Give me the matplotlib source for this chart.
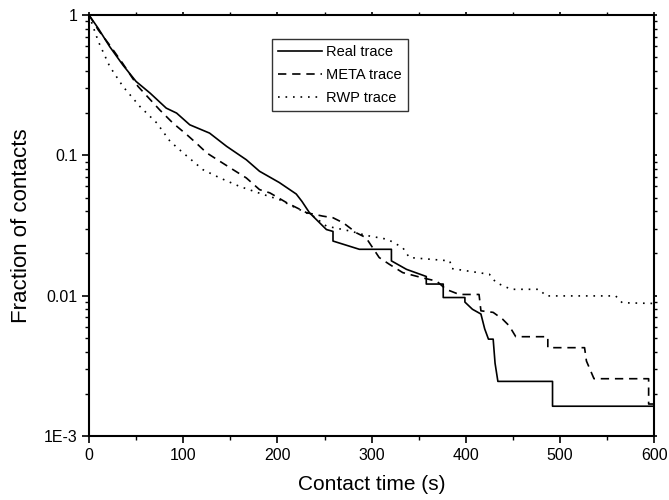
import numpy as np
import matplotlib
matplotlib.use("Agg")
import matplotlib.pyplot as plt
from matplotlib.ticker import FixedLocator, LogLocator, MultipleLocator, NullFormatter

plt.rcParams["font.family"] = ["Liberation Sans", "DejaVu Sans"]

# Real trace
real_x = [0, 10, 22, 36, 50, 65, 82, 93, 107, 128, 146, 167, 181, 202, 220, 226, 234,
          252, 259, 259, 287, 321, 321, 337, 358, 358, 376, 376, 399, 399, 407, 416,
          420, 424, 429, 431, 434, 492, 492, 600]
real_y = [1.0, 0.8, 0.595, 0.44, 0.336, 0.277, 0.217, 0.2, 0.165, 0.144, 0.116, 0.093,
          0.077, 0.064, 0.053, 0.047, 0.039, 0.0296, 0.0287, 0.0245, 0.0214, 0.0214,
          0.0177, 0.0154, 0.0137, 0.0121, 0.0121, 0.0097, 0.0097, 0.0090, 0.0080, 0.0074,
          0.0058, 0.0049, 0.0049, 0.0033, 0.00245, 0.00245, 0.00163, 0.00163]

# META trace
meta_x = [0, 10, 22, 36, 52, 75, 89, 104, 114, 125, 139, 153, 167, 181, 192, 210, 231,
          248, 259, 270, 284, 294, 308, 319, 333, 354, 369, 379, 393, 414, 416, 429, 439,
          446, 453, 487, 487, 526, 528, 536, 594, 594, 600]
meta_y = [1.0, 0.78, 0.61, 0.45, 0.31, 0.211, 0.17, 0.14, 0.122, 0.104, 0.0906, 0.079,
          0.069, 0.057, 0.054, 0.0459, 0.039, 0.0369, 0.0359, 0.033, 0.028, 0.0259, 0.0187,
          0.0167, 0.0146, 0.0134, 0.0127, 0.0111, 0.0102, 0.0102, 0.0078, 0.0076, 0.0068,
          0.0061, 0.0051, 0.0051, 0.00426, 0.00426, 0.00342, 0.00256, 0.00256, 0.00169,
          0.00169]

# RWP trace
rwp_x = [0, 10, 22, 36, 54, 72, 86, 100, 121, 139, 160, 185, 202, 216, 238, 252, 277,
         294, 317, 333, 340, 383, 385, 425, 432, 448, 478, 485, 559, 566, 600]
rwp_y = [1.0, 0.646, 0.43, 0.31, 0.223, 0.17, 0.126, 0.104, 0.079, 0.069, 0.060, 0.0526,
         0.0484, 0.0434, 0.0369, 0.0313, 0.0289, 0.0269, 0.0252, 0.022, 0.0187, 0.0177,
         0.0156, 0.0142, 0.0124, 0.0111, 0.0111, 0.00996, 0.00996, 0.0089, 0.0088]

y_ticks = [1e-3, 1e-2, 1e-1, 1]
y_tick_labels = ["1E-3", "0.01", "0.1", "1"]

fig = plt.figure(figsize=(6.69, 5.0), dpi=100)
ax = fig.add_axes([0.133, 0.128, 0.845, 0.842])

ax.plot(real_x, real_y, color="black", lw=1.2, ls="-", label="Real trace")
ax.plot(meta_x, meta_y, color="black", lw=1.2, ls=(0, (5, 3.5)), label="META trace")
ax.plot(rwp_x, rwp_y, color="black", lw=1.2, ls=(0, (1, 3.5)), label="RWP trace")

ax.set_yscale("log")
ax.set_xlim(0, 600)
ax.set_ylim(1e-3, 1)
ax.xaxis.set_major_locator(MultipleLocator(100))
ax.xaxis.set_minor_locator(MultipleLocator(50))
ax.yaxis.set_major_locator(FixedLocator(y_ticks))
ax.set_yticklabels(y_tick_labels)
ax.yaxis.set_minor_locator(LogLocator(base=10, subs=np.arange(2, 10)))
ax.yaxis.set_minor_formatter(NullFormatter())

for s in ax.spines.values():
    s.set_linewidth(1.5)
ax.tick_params(which="major", direction="out", length=5, width=1.2, labelsize=11.5,
               top=True, right=True, labeltop=False, labelright=False)
ax.tick_params(which="minor", direction="out", length=3, width=1.0, top=True, right=True)
# short ticks on the top and right spines
for t in ax.xaxis.get_ticklines(minor=False)[1::2] + ax.yaxis.get_ticklines(minor=False)[1::2]:
    t.set_markersize(2)
for t in ax.xaxis.get_ticklines(minor=True)[1::2] + ax.yaxis.get_ticklines(minor=True)[1::2]:
    t.set_markersize(2)

ax.set_xlabel("Contact time (s)", fontsize=15, labelpad=9)
ax.set_ylabel("Fraction of contacts", fontsize=16, labelpad=8)

leg = ax.legend(loc="upper left", bbox_to_anchor=(0.324, 0.943), borderaxespad=0,
                fontsize=10.5, frameon=True, fancybox=False, handlelength=3.0,
                handletextpad=0.3, labelspacing=0.62, borderpad=0.4)
leg.get_frame().set_edgecolor("black")
leg.get_frame().set_linewidth(1.0)

fig.savefig("out.png", dpi=100)
